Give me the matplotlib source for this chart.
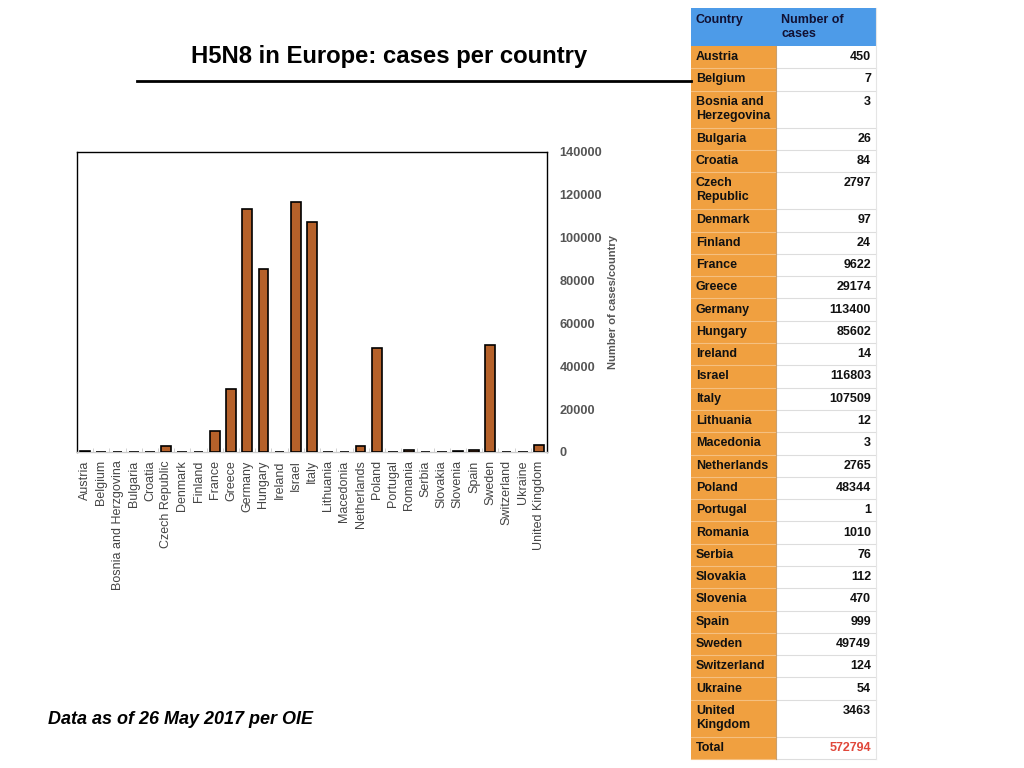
import matplotlib
matplotlib.use("Agg")
import matplotlib.pyplot as plt
from matplotlib.patches import Rectangle
import numpy as np

plt.rcParams['font.family'] = ['Liberation Sans', 'DejaVu Sans']

countries = ["Austria", "Belgium", "Bosnia and Herzgovina", "Bulgaria", "Croatia",
             "Czech Republic", "Denmark", "Finland", "France", "Greece", "Germany",
             "Hungary", "Ireland", "Israel", "Italy", "Lithuania", "Macedonia",
             "Netherlands", "Poland", "Portugal", "Romania", "Serbia", "Slovakia",
             "Slovenia", "Spain", "Sweden", "Switzerland", "Ukraine", "United Kingdom"]
table_names = ["Austria", "Belgium", "Bosnia and\nHerzegovina", "Bulgaria", "Croatia",
               "Czech\nRepublic", "Denmark", "Finland", "France", "Greece", "Germany",
               "Hungary", "Ireland", "Israel", "Italy", "Lithuania", "Macedonia",
               "Netherlands", "Poland", "Portugal", "Romania", "Serbia", "Slovakia",
               "Slovenia", "Spain", "Sweden", "Switzerland", "Ukraine", "United\nKingdom"]
cases = [450, 7, 3, 26, 84, 2797, 97, 24, 9622, 29174, 113400, 85602, 14, 116803,
         107509, 12, 3, 2765, 48344, 1, 1010, 76, 112, 470, 999, 49749, 124, 54, 3463]
total = 572794
yticks = [0, 20000, 40000, 60000, 80000, 100000, 120000, 140000]

W, H = 1024, 768
fig = plt.figure(figsize=(W / 100, H / 100), dpi=100)

# ---- bar chart ----
ax = fig.add_axes([77 / W, 1 - 452 / H, 470 / W, 300 / H])
x = np.arange(len(countries))
ax.bar(x, cases, width=0.6, color='#b5612a', edgecolor='black', linewidth=1.2, zorder=3)
ax.set_xlim(-0.5, len(countries) - 0.5)
ax.set_ylim(0, 140000)
ax.set_xticks(x)
ax.set_xticklabels(countries, rotation=90, fontsize=9, color='#444444')
ax.set_xticks(np.arange(-0.5, len(countries), 1), minor=True)
ax.tick_params(axis='x', which='major', length=0, pad=6)
ax.tick_params(axis='x', which='minor', length=3, color='#cccccc', direction='in')
ax.yaxis.tick_right()
ax.set_yticks(yticks)
ax.set_yticklabels([str(v) for v in yticks], fontsize=9.2, color='#555555', fontweight='bold')
ax.tick_params(axis='y', length=0, pad=9)
ax.yaxis.set_label_position('right')
ax.set_ylabel('Number of cases/country', fontsize=8, color='#555555', fontweight='bold', labelpad=4)
for s in ['top', 'left', 'right']:
    ax.spines[s].set_color('black')
    ax.spines[s].set_linewidth(1.0)
ax.spines['bottom'].set_color('#cccccc')
ax.spines['bottom'].set_linewidth(1.0)

# ---- overlay in pixel coordinates ----
ov = fig.add_axes([0, 0, 1, 1], zorder=5)
ov.set_xlim(0, W)
ov.set_ylim(H, 0)
ov.axis('off')
ov.patch.set_alpha(0)

ov.text(389, 56, 'H5N8 in Europe: cases per country', ha='center', va='center',
        fontsize=17.2, fontweight='bold', color='black')
ov.plot([137, 691], [81, 81], color='black', lw=2)
ov.text(48, 720, 'Data as of 26 May 2017 per OIE', ha='left', va='center',
        fontsize=13, fontweight='bold', fontstyle='italic', color='black')

# table
tx0, tx1, tx2 = 691, 776, 876
blue = '#4d9be8'
orange = '#f0a040'
fs = 9
ov.add_patch(Rectangle((tx0, 8), tx2 - tx0, 38, facecolor=blue, edgecolor='none'))
ov.text(696, 20, 'Country', ha='left', va='center', fontsize=fs, fontweight='bold', color='#111133')
ov.text(781, 20, 'Number of', ha='left', va='center', fontsize=fs, fontweight='bold', color='#111133')
ov.text(781, 34, 'cases', ha='left', va='center', fontsize=fs, fontweight='bold', color='#111133')

single, double = 22.3, 37.0
y = 46.0
rows = list(zip(table_names, [str(c) for c in cases])) + [("Total", str(total))]
for i, (name, val) in enumerate(rows):
    lines = name.split('\n')
    h = double if len(lines) > 1 else single
    ov.add_patch(Rectangle((tx0, y), tx1 - tx0, h, facecolor=orange, edgecolor='none'))
    ov.add_patch(Rectangle((tx1, y), tx2 - tx1, h, facecolor='white', edgecolor='none'))
    ov.plot([tx0, tx1], [y + h, y + h], color='#f5c080', lw=0.8)
    ov.plot([tx1, tx2], [y + h, y + h], color='#dddddd', lw=0.8)
    if len(lines) == 1:
        ov.text(696, y + h / 2, name, ha='left', va='center', fontsize=fs, fontweight='bold', color='#111111')
        ov.text(871, y + h / 2, val, ha='right', va='center', fontsize=fs, fontweight='bold',
                color='#e0473a' if name == 'Total' else '#111111')
    else:
        ov.text(696, y + 11, lines[0], ha='left', va='center', fontsize=fs, fontweight='bold', color='#111111')
        ov.text(696, y + 25, lines[1], ha='left', va='center', fontsize=fs, fontweight='bold', color='#111111')
        ov.text(871, y + 11, val, ha='right', va='center', fontsize=fs, fontweight='bold', color='#111111')
    y += h
ov.plot([tx1, tx1], [46, y], color='#c9a070', lw=0.8)
ov.plot([tx2, tx2], [8, y], color='#e5e5e5', lw=0.8)

fig.savefig('out.png', dpi=100)
